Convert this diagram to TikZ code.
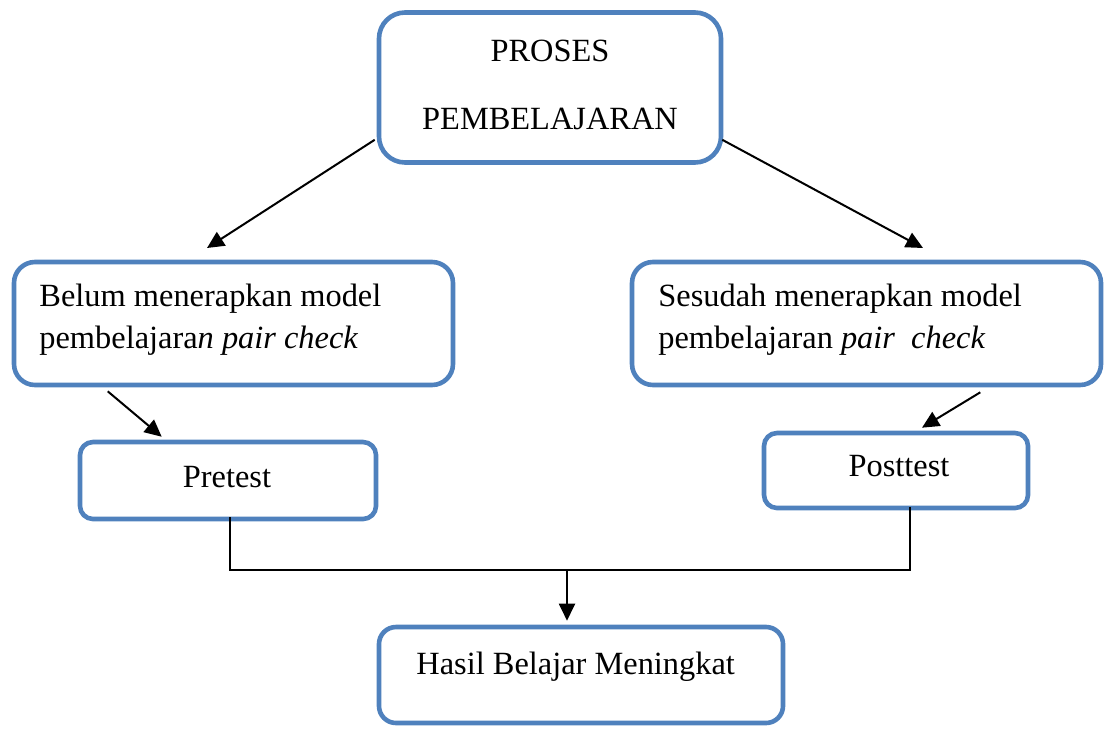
\documentclass[tikz,border=0pt]{standalone}
\usepackage{fontspec}
\setmainfont{Liberation Serif}
\usetikzlibrary{arrows.meta,calc}
\definecolor{boxblue}{HTML}{4F81BD}
\tikzset{
  box/.style={draw=boxblue, line width=2.3pt, fill=white, inner sep=0pt},
  lbl/.style={font=\fontsize{16.2}{21}\selectfont, inner sep=0pt},
  arr/.style={line width=1pt, -{Triangle[length=8.5pt,width=8pt]}},
  conn/.style={line width=0.7pt},
}
\begin{document}
\begin{tikzpicture}[x=0.5pt,y=-0.5pt]
\useasboundingbox (0,0) rectangle (1106,728);
% boxes
\node[box, rounded corners=13pt, minimum width=171pt, minimum height=75pt] (top) at (550,87.5) {};
\node[box, rounded corners=10.5pt, minimum width=219.5pt, minimum height=61.5pt] (left) at (233.5,323.5) {};
\node[box, rounded corners=10.5pt, minimum width=234.5pt, minimum height=61.5pt] (right) at (866.5,323.5) {};
\node[box, rounded corners=6.5pt, minimum width=148pt, minimum height=38.5pt] (pre) at (228,480.5) {};
\node[box, rounded corners=6.5pt, minimum width=132pt, minimum height=37.5pt] (post) at (896,470.5) {};
\node[box, rounded corners=8.5pt, minimum width=202pt, minimum height=48pt] (bot) at (581,675) {};
% texts
\node[lbl, anchor=base] (t1) at (550,61) {PROSES};
\node[lbl, anchor=base] (t2) at (550,129) {PEMBELAJARAN};
\node[lbl, anchor=base west] (l1) at (39,306) {Belum menerapkan model};
\node[lbl, anchor=base west] (l2) at (39,348) {pembelajara\textit{n pair check}};
\node[lbl, anchor=base west] (r1) at (658,306) {Sesudah menerapkan model};
\node[lbl, anchor=base west] (r2) at (658,348) {pembelajaran \textit{pair\ \ check}};
\node[lbl, anchor=base] (p1) at (227,487) {Pretest};
\node[lbl, anchor=base] (p2) at (899,476) {Posttest};
\node[lbl, anchor=base west] (b1) at (416,674) {Hasil Belajar Meningkat};
% connectors
\coordinate (cl) at (207,248);
\coordinate (cr) at (923,248);
\draw[arr] ($(top.south west)+(-2,-25)$) -- (cl);
\draw[arr] ($(top.south east)+(-1,-25)$) -- (cr);
\draw[arr] ($(left.south west)+(96,4)$) -- ($(pre.north west)+(84,-3)$);
\draw[arr] ($(right.south east)+(-123,5)$) -- ($(post.north)+(26,-3)$);
\coordinate (jl) at (230,570);
\coordinate (jr) at (910,570);
\coordinate (jm) at (567,570);
\draw[conn] ($(pre.south)+(2,-4)$) -- (jl) -- (jr) -- ($(post.south)+(14,-3)$);
\draw[arr] (jm) -- ($(bot.north -| jm)+(0,-4)$);
\end{tikzpicture}
\end{document}
